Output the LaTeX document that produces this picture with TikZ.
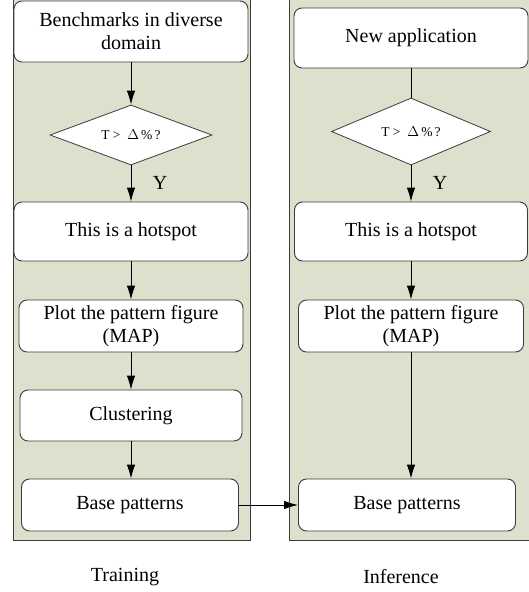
\documentclass[tikz,border=0pt]{standalone}
\usepackage{fontspec}
\setmainfont{Liberation Serif}
\usetikzlibrary{shapes.geometric,arrows.meta}

\definecolor{panelfill}{RGB}{221,224,205}
\definecolor{edgegray}{RGB}{60,60,60}

\tikzset{
    panel/.style={draw=edgegray, fill=panelfill, line width=0.9pt},
    box/.style={draw=edgegray, fill=white, rounded corners=8pt, line width=0.9pt,
        align=center, inner sep=0pt, font=\fontsize{20}{23}\selectfont},
    decision/.style={diamond, draw=edgegray, fill=white, line width=0.8pt, aspect=2.6,
        inner sep=0pt, font=\fontsize{13.5}{15}\selectfont},
    flow/.style={line width=0.9pt, -{Latex[length=14pt,width=8.5pt]}},
    label/.style={font=\fontsize{20}{23}\selectfont}
}

\begin{document}
\begin{tikzpicture}[x=1pt,y=-1pt]
    \useasboundingbox (0,0) rectangle (529,592);

    % Panels
    \begin{scope}
        \clip (0,0) rectangle (529,592);
        \draw[panel] (13,-5) rectangle (250,540);
        \draw[panel] (289,-5) rectangle (540,540);
    \end{scope}

    % Training column
    \node[box, minimum width=234pt, minimum height=61pt] (bench) at (131,31.5) {Benchmarks in diverse\\domain};
    \node[decision, minimum width=162pt, minimum height=60pt] (ldec) at (131,135) {T >~~$\Delta$\,\%\,?};
    \node[box, minimum width=234pt, minimum height=59pt] (lhot) at (131,231.5) {This is a hotspot};
    \node[box, minimum width=224pt, minimum height=52pt] (lplot) at (131,326) {Plot the pattern figure\\(MAP)};
    \node[box, minimum width=222pt, minimum height=51pt] (lclust) at (131,415.5) {Clustering};
    \node[box, minimum width=217pt, minimum height=52pt] (lbase) at (130,505) {Base patterns};

    % Inference column
    \node[box, minimum width=234pt, minimum height=60pt] (newapp) at (411,38) {New application};
    \node[decision, minimum width=159pt, minimum height=67pt] (rdec) at (411,131.5) {T >~~$\Delta$\,\%\,?};
    \node[box, minimum width=233pt, minimum height=59pt] (rhot) at (411,231.5) {This is a hotspot};
    \node[box, minimum width=225pt, minimum height=52pt] (rplot) at (411,326) {Plot the pattern figure\\(MAP)};
    \node[box, minimum width=217pt, minimum height=52pt] (rbase) at (407,505) {Base patterns};

    % Y labels
    \node[label] (ly) at (160,183) {Y};
    \node[label] (ry) at (440,183) {Y};

    % Captions
    \node[label] (train) at (125,577) {Training};
    \node[label] (infer) at (401,577) {Inference};

    % Arrows
    \draw[flow] (bench) -- (ldec);
    \draw[flow] (ldec) -- (lhot);
    \draw[flow] (lhot) -- (lplot);
    \draw[flow] (lplot) -- (lclust);
    \draw[flow] (lclust.south) -- (lclust.south |- lbase.north);
    \draw[line width=0.9pt] (newapp) -- (rdec);
    \draw[flow] (rdec) -- (rhot);
    \draw[flow] (rhot) -- (rplot);
    \draw[flow] (rplot.south) -- (rplot.south |- rbase.north);
    \draw[flow] (lbase) -- (rbase);
\end{tikzpicture}
\end{document}
